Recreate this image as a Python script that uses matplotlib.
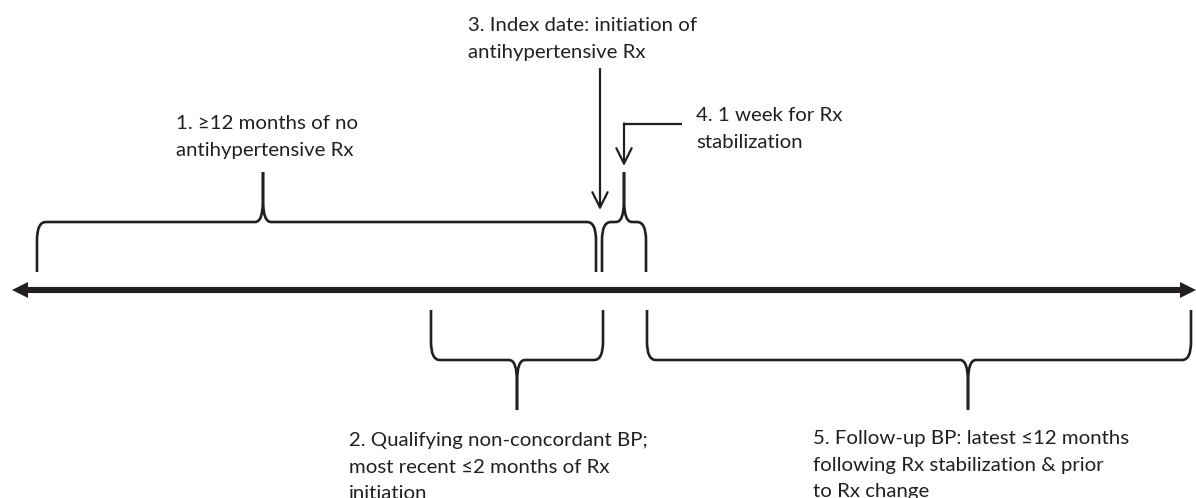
import matplotlib
matplotlib.use("Agg")
import matplotlib.pyplot as plt
from matplotlib.path import Path
from matplotlib.patches import PathPatch

W, H = 1196, 498
INK = "#231f20"

# timeline (pixel units along the axis)
timeline_start, timeline_end = 12, 1196
timeline_y = 290

# periods shown as braces: start, end, where the brace points to, side
brace_left = [37, 602, 431, 647]
brace_right = [596, 646, 603, 1191]
brace_tip = [263, 624, 517, 968]
brace_side = ["above", "above", "below", "below"]

# labels
labels = [
    ["1. \u226512 months of no", "antihypertensive Rx"],
    ["2. Qualifying non-concordant BP;", "most recent \u22642 months of Rx", "initiation"],
    ["3. Index date: initiation of", "antihypertensive Rx"],
    ["4. 1 week for Rx", "stabilization"],
    ["5. Follow-up BP: latest \u226412 months", "following Rx stabilization & prior", "to Rx change"],
]
label_x = [176, 349, 468, 696, 813]
label_y = [129, 446, 31, 121, 444]   # baseline of first line

index_date = 600
stab_end = 624

fig = plt.figure(figsize=(W / 100, H / 100), dpi=100)
ax = fig.add_axes([0, 0, 1, 1])
ax.set_xlim(0, W)
ax.set_ylim(H, 0)
ax.axis("off")


def brace(ax, x0, x1, xt, side, rx=9, ry=18, tx=8, ty=22):
    if side == "above":
        yb, ym, yt = 272, 222, 172
    else:
        yb, ym, yt = 310, 360, 410
    s = 1 if ym > yb else -1
    for a, b, d in [(x0, xt, 1), (x1, xt, -1)]:
        verts = [(a, yb), (a, ym - s * ry), (a, ym), (a + d * rx, ym),
                 (b - d * tx, ym), (b, ym), (b, ym + s * ty), (b, yt)]
        codes = [Path.MOVETO, Path.LINETO, Path.CURVE3, Path.CURVE3,
                 Path.LINETO, Path.CURVE3, Path.CURVE3, Path.LINETO]
        ax.add_patch(PathPatch(Path(verts, codes), fill=False, lw=1.9,
                               ec=INK, capstyle="butt", joinstyle="round"))


# main timeline with filled heads
hl, hw = 16, 8
ax.plot([timeline_start + hl - 1, timeline_end - hl + 1], [timeline_y, timeline_y],
        color=INK, lw=4.4, solid_capstyle="butt")
ax.fill([timeline_start, timeline_start + hl, timeline_start + hl],
        [timeline_y, timeline_y - hw, timeline_y + hw], color=INK, lw=0)
ax.fill([timeline_end, timeline_end - hl, timeline_end - hl],
        [timeline_y, timeline_y - hw, timeline_y + hw], color=INK, lw=0)

for x0, x1, xt, sd in zip(brace_left, brace_right, brace_tip, brace_side):
    brace(ax, x0, x1, xt, sd)

# arrow 3: index date
arrow_kw = dict(arrowstyle="->,head_length=1.1,head_width=0.55", lw=1.6,
                color=INK, shrinkA=0, shrinkB=0, mutation_scale=10)
ax.annotate("", xy=(index_date, 210), xytext=(index_date, 69), arrowprops=arrow_kw)

# arrow 4: 1 week stabilization (elbow)
ax.plot([682, stab_end], [124, 124], color=INK, lw=1.6, solid_capstyle="butt")
ax.annotate("", xy=(stab_end, 166), xytext=(stab_end, 123.4), arrowprops=arrow_kw)

for lines, x, y in zip(labels, label_x, label_y):
    for i, ln in enumerate(lines):
        ax.text(x, y + 26.5 * i, ln, fontsize=14.7, family=["Lato", "DejaVu Sans"],
                color=INK, ha="left", va="baseline")

fig.savefig("out.png", dpi=100)
